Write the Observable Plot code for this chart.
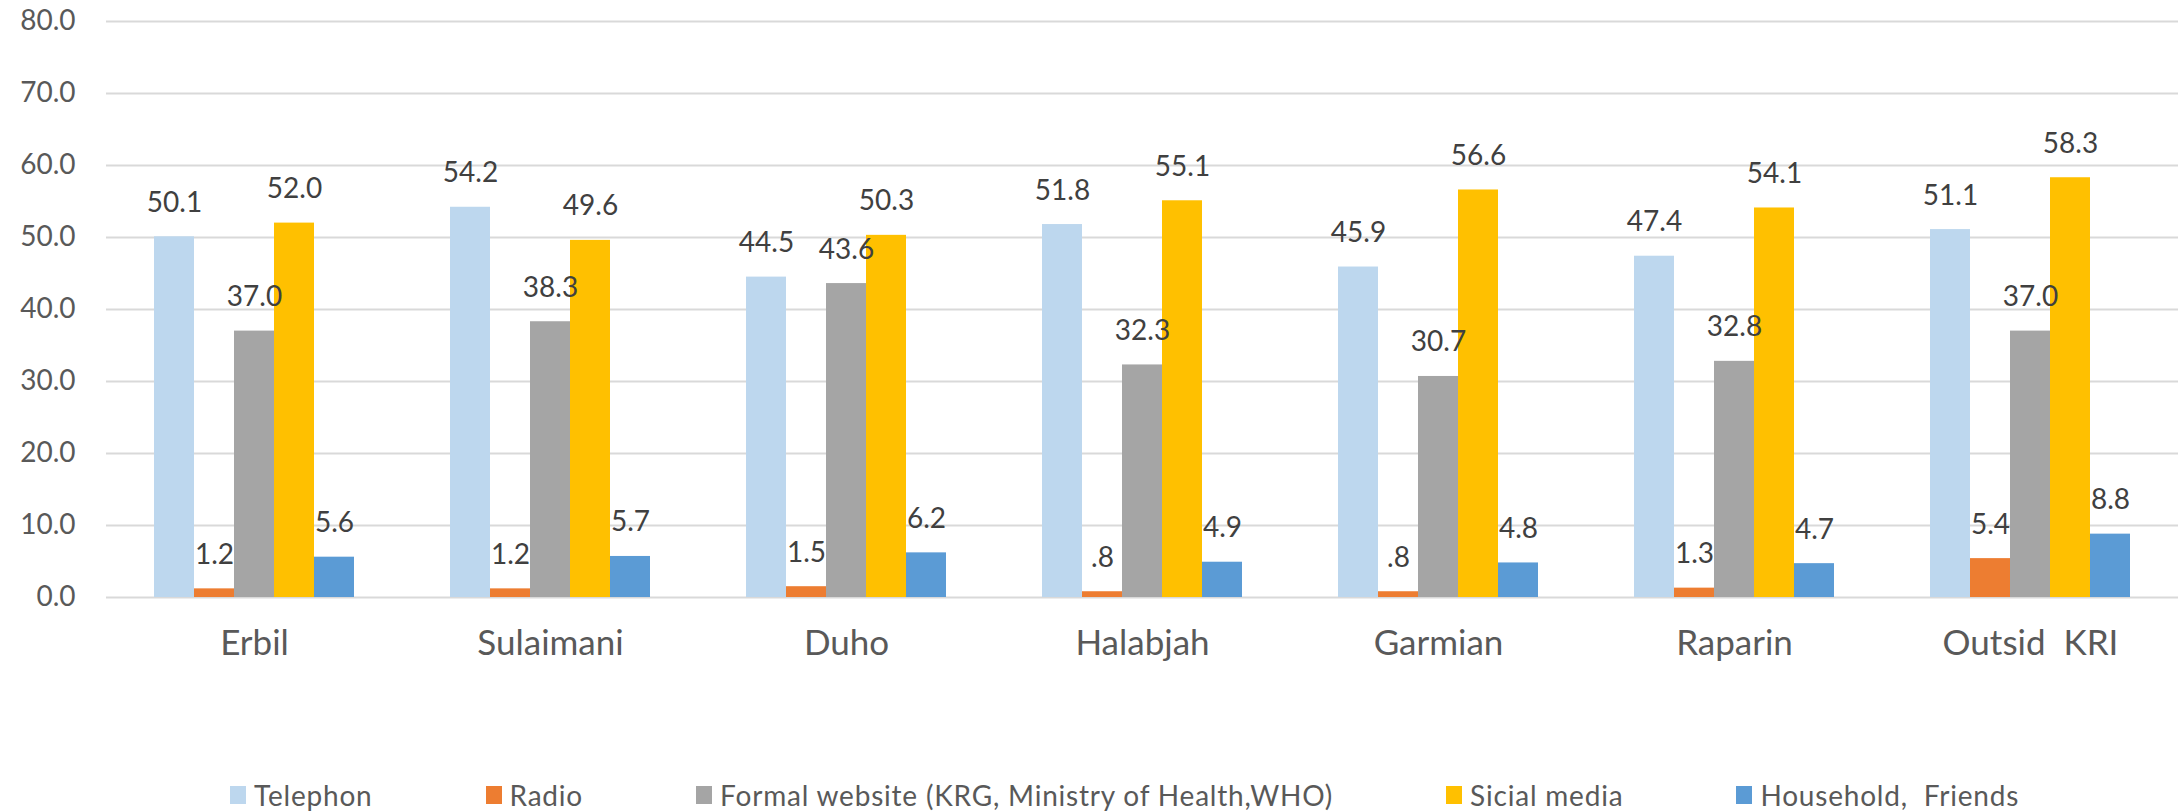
<!DOCTYPE html>
<html><head><meta charset="utf-8">
<script src="https://cdn.jsdelivr.net/npm/d3@7"></script>
<script src="https://cdn.jsdelivr.net/npm/@observablehq/plot@0.6"></script>
<style>
body{margin:0;background:#fff;font-family:Lato,sans-serif;}
#wrap{position:relative;width:2182px;height:812px;overflow:hidden;}
#wrap svg text{white-space:pre;}
#legend{position:absolute;left:230px;top:782px;display:flex;gap:113px;font-size:28px;letter-spacing:0.8px;color:#595959;line-height:26px;}
.item{display:flex;align-items:center;gap:8px;white-space:pre;}
.sw{width:16px;height:18px;}
</style></head><body><div id="wrap"></div>
<script>
const regions = ["Erbil","Sulaimani","Duho","Halabjah","Garmian","Raparin","Outsid  KRI"];
const sources = ["Telephon","Radio","Formal website (KRG, Ministry of Health,WHO)","Sicial media","Household,  Friends"];
const telephon = [50.1,54.2,44.5,51.8,45.9,47.4,51.1];
const radio = [1.2,1.2,1.5,0.8,0.8,1.3,5.4];
const formalWebsite = [37.0,38.3,43.6,32.3,30.7,32.8,37.0];
const socialMedia = [52.0,49.6,50.3,55.1,56.6,54.1,58.3];
const household = [5.6,5.7,6.2,4.9,4.8,4.7,8.8];
const colors = ["#BDD7EE","#ED7D31","#A5A5A5","#FFC000","#5B9BD5"];
const yTicks = [0,10,20,30,40,50,60,70,80];

const series = [telephon, radio, formalWebsite, socialMedia, household];
const rows = [];
regions.forEach((r, i) => series.forEach((s, j) => rows.push({region: r, source: sources[j], value: s[i]})));
const fmt = v => { const s = v.toFixed(1); return v < 1 ? s.replace(/^0/, "") : s; };

const chart = Plot.plot({
  width: 2182, height: 700,
  marginTop: 21, marginBottom: 103, marginLeft: 103, marginRight: 2,
  style: {fontFamily: "Lato, sans-serif", fontSize: "28px", color: "#595959", background: "#fff", overflow: "visible"},
  fx: {domain: regions, padding: 0, axis: null},
  x: {domain: sources, paddingInner: 0, paddingOuter: 1.118, axis: null},
  y: {domain: [0, 80], ticks: yTicks, tickFormat: d => d.toFixed(1), tickSize: 0, tickPadding: 31, label: null},
  color: {domain: sources, range: colors},
  marks: [
    Plot.ruleY(yTicks, {stroke: "#D9D9D9", strokeWidth: 2}),
    Plot.barY(rows, {fx: "region", x: "source", y: "value", fill: "source"}),
    Plot.text(rows, {fx: "region", x: "source", y: "value", text: d => fmt(d.value), dy: -34, fill: "#404040", fontSize: 28}),
    Plot.text(regions, {fx: d => d, text: d => d, frameAnchor: "bottom", dy: 57, fontSize: 35, fill: "#595959"})
  ]
});
const wrap = document.getElementById("wrap");
wrap.appendChild(chart);
const legend = document.createElement("div");
legend.id = "legend";
sources.forEach((s, i) => {
  const it = document.createElement("div");
  it.className = "item";
  const sw = document.createElement("span");
  sw.className = "sw";
  sw.style.background = colors[i];
  const t = document.createElement("span");
  t.textContent = s;
  it.appendChild(sw); it.appendChild(t);
  legend.appendChild(it);
});
wrap.appendChild(legend);
</script></body></html>
